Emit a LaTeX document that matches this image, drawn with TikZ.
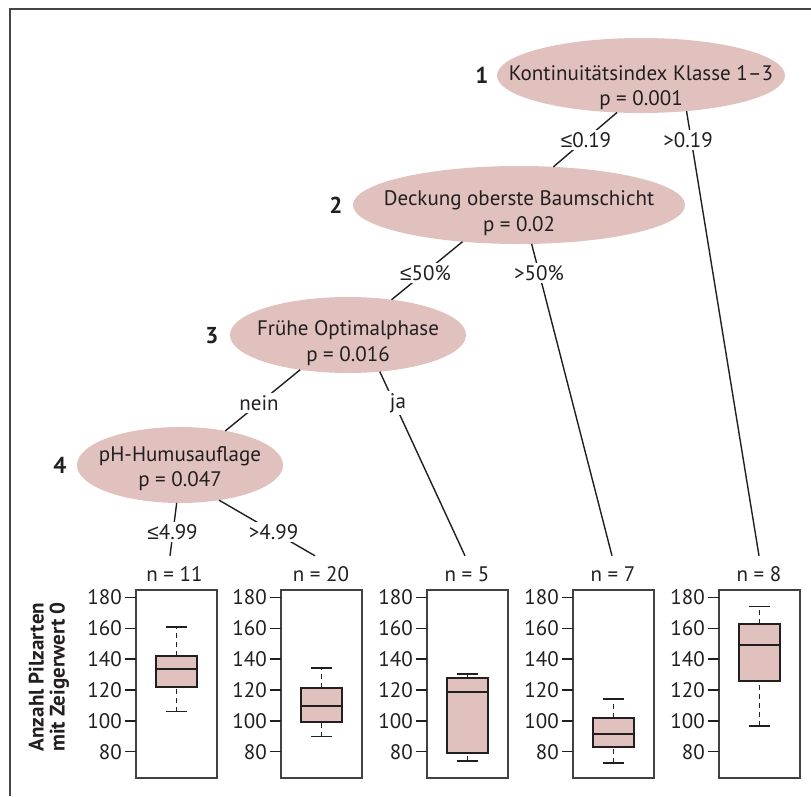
\documentclass[tikz,border=0pt]{standalone}
\usepackage{fontspec}
\setmainfont{PT Sans}
\newfontfamily\symfnt{Liberation Sans}
\newcommand{\myleq}{{\symfnt ≤}}
\usetikzlibrary{shapes.geometric}
\definecolor{pinkfill}{RGB}{224,193,189}
\definecolor{ink}{RGB}{35,31,32}
\definecolor{framegray}{RGB}{70,70,70}
\newcommand{\bxplt}[6]{%
  \begin{scope}[shift={(#1pt,-875.4pt)}, x=1pt, y=1.545pt]
    \draw[whisk] (0,#2) -- (0,#3);
    \draw[whisk] (0,#5) -- (0,#6);
    \draw[capline] (-10.5,#2) -- (10.5,#2);
    \draw[capline] (-10.5,#6) -- (10.5,#6);
    \draw[boxst] (-20.5,#3) rectangle (20.5,#5);
    \draw[medst] (-20.5,#4) -- (20.5,#4);
  \end{scope}}
\begin{document}
\begin{tikzpicture}[x=1pt,y=-1pt,
  every node/.style={text=ink},
  txt/.style={font=\fontsize{21}{25}\selectfont, inner sep=0pt},
  splitnode/.style={ellipse, fill=pinkfill, inner sep=0pt, outer sep=0pt},
  numlab/.style={font=\fontsize{23}{25}\selectfont\bfseries, inner sep=0pt},
  edge/.style={draw=ink, line width=1.4pt},
  elab/.style={font=\fontsize{21}{25}\selectfont, fill=white, inner sep=2pt},
  nlab/.style={font=\fontsize{21}{25}\selectfont, anchor=base, text height=15pt, text depth=0pt, inner ysep=10pt, inner xsep=2pt},
  ticklab/.style={font=\fontsize{21}{25}\selectfont, anchor=east, inner sep=0pt},
  pframe/.style={draw=ink!85, line width=1.4pt},
  tickst/.style={draw=ink, line width=1.3pt},
  whisk/.style={draw=ink, line width=1.3pt, dash pattern=on 5pt off 4pt},
  capline/.style={draw=ink, line width=1.6pt},
  boxst/.style={draw=ink, fill=pinkfill, line width=2pt},
  medst/.style={draw=ink, line width=2pt},
  framest/.style={draw=framegray, line width=2pt}]
\useasboundingbox (0,0) rectangle (811,796);
\fill[white] (0,0) rectangle (811,796);
\draw[framest] (811,9) -- (10,9) -- (10,796);

% split nodes
\node[splitnode, minimum width=288pt, minimum height=75pt] (e1) at (641,75.5) {};
\node[splitnode, minimum width=332pt, minimum height=78pt] (e2) at (519,205) {};
\node[splitnode, minimum width=236pt, minimum height=76pt] (e3) at (348,335) {};
\node[splitnode, minimum width=206pt, minimum height=76pt] (e4) at (180,465) {};

\node[txt, anchor=base] (t1a) at (641,80) {Kontinuitätsindex Klasse 1–3};
\node[txt, anchor=base] (t1b) at (641,105) {p = 0.001};
\node[txt, anchor=base] (t2a) at (519,205) {Deckung oberste Baumschicht};
\node[txt, anchor=base] (t2b) at (519,231) {p = 0.02};
\node[txt, anchor=base] (t3a) at (348,335.5) {Frühe Optimalphase};
\node[txt, anchor=base] (t3b) at (348,361) {p = 0.016};
\node[txt, anchor=base] (t4a) at (180,461.7) {pH-Humusauflage};
\node[txt, anchor=base] (t4b) at (180,486.7) {p = 0.047};

\node[numlab] (k1) at (482,75.5) {1};
\node[numlab] (k2) at (336,205.5) {2};
\node[numlab] (k3) at (212,335.5) {3};
\node[numlab] (k4) at (60,465.5) {4};

% terminal labels
\node[nlab] (n1) at (174.5,581) {n = 11};
\node[nlab] (n2) at (321,581) {n = 20};
\node[nlab] (n3) at (467,581) {n = 5};
\node[nlab] (n4) at (613,581) {n = 7};
\node[nlab] (n5) at (759,581) {n = 8};

% connectors
\draw[edge] (e1.237.7) -- (e2.48.9);
\draw[edge] (e1.322.1) -- (n5.north);
\draw[edge] (e2.213.2) -- (e3.39.4);
\draw[edge] (e2.288.9) -- ([xshift=-1pt]n4.north);
\draw[edge] (e3.216.7) -- (e4.37.2);
\draw[edge] (e3.311.9) -- ([xshift=-2pt]n3.north);
\draw[edge] (e4.265.7) -- ([xshift=-4.5pt]n1.north);
\draw[edge] (e4.318.8) -- ([xshift=-6pt]n2.north);

\node[elab] (l1) at (586,140) {\myleq0.19};
\node[elab] (l2) at (688,140) {>0.19};
\node[elab] (l3) at (425.5,273) {\myleq50\%};
\node[elab] (l4) at (539,273) {>50\%};
\node[elab] (l5) at (259,403) {nein};
\node[elab] (l6) at (398,403) {ja};
\node[elab] (l7) at (172.5,532) {\myleq4.99};
\node[elab] (l8) at (273.5,532) {>4.99};

% plot frames, ticks, labels
\foreach \i/\L in {1/136,2/281,3/427,4/573,5/719}{
  \draw[pframe] (\L,590) rectangle (\L+81,778);
  \foreach \v/\yy in {180/597.3,160/628.2,140/659.1,120/690.0,100/720.9,80/751.8}{
    \draw[tickst] (\L-11,\yy) -- (\L,\yy);
    \node[ticklab] (tk\i-\v) at (\L-14,\yy) {\v};
  }
}

% box plots
\bxplt{176.5}{106}{122}{133.4}{142}{160.8}
\bxplt{321.5}{89.8}{99.3}{109.6}{121.5}{134.4}
\bxplt{467.5}{74.2}{79}{118.9}{128}{130.2}
\bxplt{613.5}{72.6}{83.1}{91.7}{102.1}{114.2}
\bxplt{759.5}{96.9}{125.8}{148.9}{162.7}{174.1}

% axis title
\node[rotate=90, align=center, font=\fontsize{21}{21}\selectfont\bfseries, inner sep=0pt] (ytitle) at (49,677) {Anzahl Pilzarten\\mit Zeigerwert 0};
\end{tikzpicture}
\end{document}
